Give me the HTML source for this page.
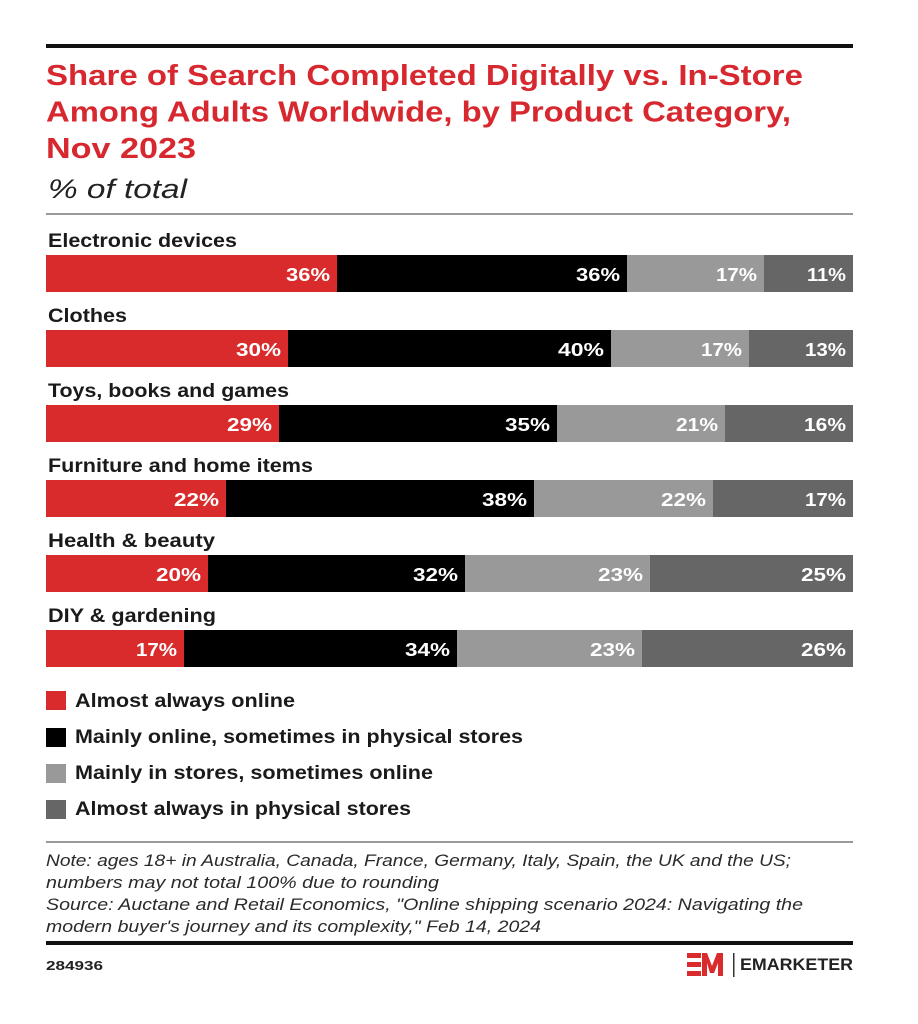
<!DOCTYPE html>
<html><head><meta charset="utf-8"><style>
html,body{margin:0;padding:0;background:#fff;}
svg{display:block;}
</style></head><body>
<svg width="918" height="1024" viewBox="0 0 918 1024" xmlns="http://www.w3.org/2000/svg" font-family="'Liberation Sans', sans-serif">
<rect width="918" height="1024" fill="#fff"/>
<rect x="46" y="44" width="807" height="4" fill="#111"/>
<g fill="#d7282f" font-weight="bold" font-size="29">
<text x="46" y="85" textLength="757" lengthAdjust="spacingAndGlyphs">Share of Search Completed Digitally vs. In-Store</text>
<text x="46" y="121.5" textLength="745" lengthAdjust="spacingAndGlyphs">Among Adults Worldwide, by Product Category,</text>
<text x="46" y="158" textLength="150" lengthAdjust="spacingAndGlyphs">Nov 2023</text>
</g>
<text x="48" y="198" font-size="27" font-style="italic" fill="#222" textLength="139" lengthAdjust="spacingAndGlyphs">% of total</text>
<rect x="46" y="213" width="807" height="2" fill="#999"/>

<g font-weight="bold" font-size="19.5" fill="#1a1a1a">
<text x="48" y="247" textLength="189" lengthAdjust="spacingAndGlyphs">Electronic devices</text>
<text x="48" y="322" textLength="79" lengthAdjust="spacingAndGlyphs">Clothes</text>
<text x="48" y="397" textLength="241" lengthAdjust="spacingAndGlyphs">Toys, books and games</text>
<text x="48" y="472" textLength="265" lengthAdjust="spacingAndGlyphs">Furniture and home items</text>
<text x="48" y="547" textLength="167" lengthAdjust="spacingAndGlyphs">Health &amp; beauty</text>
<text x="48" y="622" textLength="168" lengthAdjust="spacingAndGlyphs">DIY &amp; gardening</text>
</g>

<!-- bars -->
<g>
<rect x="46" y="255" width="291" height="37" fill="#d92b2b"/><rect x="337" y="255" width="290" height="37" fill="#000"/><rect x="627" y="255" width="137" height="37" fill="#999"/><rect x="764" y="255" width="89" height="37" fill="#666"/>
<rect x="46" y="330" width="242" height="37" fill="#d92b2b"/><rect x="288" y="330" width="323" height="37" fill="#000"/><rect x="611" y="330" width="138" height="37" fill="#999"/><rect x="749" y="330" width="104" height="37" fill="#666"/>
<rect x="46" y="405" width="233" height="37" fill="#d92b2b"/><rect x="279" y="405" width="278" height="37" fill="#000"/><rect x="557" y="405" width="168" height="37" fill="#999"/><rect x="725" y="405" width="128" height="37" fill="#666"/>
<rect x="46" y="480" width="180" height="37" fill="#d92b2b"/><rect x="226" y="480" width="308" height="37" fill="#000"/><rect x="534" y="480" width="179" height="37" fill="#999"/><rect x="713" y="480" width="140" height="37" fill="#666"/>
<rect x="46" y="555" width="162" height="37" fill="#d92b2b"/><rect x="208" y="555" width="257" height="37" fill="#000"/><rect x="465" y="555" width="185" height="37" fill="#999"/><rect x="650" y="555" width="203" height="37" fill="#666"/>
<rect x="46" y="630" width="138" height="37" fill="#d92b2b"/><rect x="184" y="630" width="273" height="37" fill="#000"/><rect x="457" y="630" width="185" height="37" fill="#999"/><rect x="642" y="630" width="211" height="37" fill="#666"/>
</g>
<g fill="#fff" font-weight="bold" font-size="18" text-anchor="end">
<text x="330" y="281" textLength="44" lengthAdjust="spacingAndGlyphs">36%</text>
<text x="620" y="281" textLength="44" lengthAdjust="spacingAndGlyphs">36%</text>
<text x="757" y="281" textLength="41" lengthAdjust="spacingAndGlyphs">17%</text>
<text x="846" y="281" textLength="39" lengthAdjust="spacingAndGlyphs">11%</text>

<text x="281" y="356" textLength="45" lengthAdjust="spacingAndGlyphs">30%</text>
<text x="604" y="356" textLength="46" lengthAdjust="spacingAndGlyphs">40%</text>
<text x="742" y="356" textLength="41" lengthAdjust="spacingAndGlyphs">17%</text>
<text x="846" y="356" textLength="41" lengthAdjust="spacingAndGlyphs">13%</text>

<text x="272" y="431" textLength="45" lengthAdjust="spacingAndGlyphs">29%</text>
<text x="550" y="431" textLength="45" lengthAdjust="spacingAndGlyphs">35%</text>
<text x="718" y="431" textLength="42" lengthAdjust="spacingAndGlyphs">21%</text>
<text x="846" y="431" textLength="42" lengthAdjust="spacingAndGlyphs">16%</text>

<text x="219" y="506" textLength="45" lengthAdjust="spacingAndGlyphs">22%</text>
<text x="527" y="506" textLength="45" lengthAdjust="spacingAndGlyphs">38%</text>
<text x="706" y="506" textLength="45" lengthAdjust="spacingAndGlyphs">22%</text>
<text x="846" y="506" textLength="41" lengthAdjust="spacingAndGlyphs">17%</text>

<text x="201" y="581" textLength="45" lengthAdjust="spacingAndGlyphs">20%</text>
<text x="458" y="581" textLength="45" lengthAdjust="spacingAndGlyphs">32%</text>
<text x="643" y="581" textLength="45" lengthAdjust="spacingAndGlyphs">23%</text>
<text x="846" y="581" textLength="45" lengthAdjust="spacingAndGlyphs">25%</text>

<text x="177" y="656" textLength="41" lengthAdjust="spacingAndGlyphs">17%</text>
<text x="450" y="656" textLength="45" lengthAdjust="spacingAndGlyphs">34%</text>
<text x="635" y="656" textLength="45" lengthAdjust="spacingAndGlyphs">23%</text>
<text x="846" y="656" textLength="45" lengthAdjust="spacingAndGlyphs">26%</text>
</g>

<!-- legend -->
<rect x="46" y="691" width="20" height="19" fill="#d92b2b"/>
<rect x="46" y="728" width="20" height="19" fill="#000"/>
<rect x="46" y="764" width="20" height="19" fill="#999"/>
<rect x="46" y="800" width="20" height="19" fill="#666"/>
<g font-weight="bold" font-size="19.5" fill="#1a1a1a">
<text x="75" y="707" textLength="220" lengthAdjust="spacingAndGlyphs">Almost always online</text>
<text x="75" y="743" textLength="448" lengthAdjust="spacingAndGlyphs">Mainly online, sometimes in physical stores</text>
<text x="75" y="779" textLength="358" lengthAdjust="spacingAndGlyphs">Mainly in stores, sometimes online</text>
<text x="75" y="815" textLength="336" lengthAdjust="spacingAndGlyphs">Almost always in physical stores</text>
</g>

<rect x="46" y="841" width="807" height="2" fill="#999"/>
<g font-style="italic" font-size="17" fill="#2a2a2a">
<text x="46" y="866" textLength="745" lengthAdjust="spacingAndGlyphs">Note: ages 18+ in Australia, Canada, France, Germany, Italy, Spain, the UK and the US;</text>
<text x="46" y="888" textLength="393" lengthAdjust="spacingAndGlyphs">numbers may not total 100% due to rounding</text>
<text x="46" y="910" textLength="757" lengthAdjust="spacingAndGlyphs">Source: Auctane and Retail Economics, "Online shipping scenario 2024: Navigating the</text>
<text x="46" y="932" textLength="495" lengthAdjust="spacingAndGlyphs">modern buyer's journey and its complexity," Feb 14, 2024</text>
</g>
<rect x="46" y="941" width="807" height="4" fill="#111"/>
<text x="46" y="970" font-weight="bold" font-size="13" fill="#222" textLength="57" lengthAdjust="spacingAndGlyphs">284936</text>

<!-- logo -->
<g fill="#d92b2b">
<rect x="687" y="953" width="14" height="5"/>
<rect x="687" y="962" width="14" height="5"/>
<rect x="687" y="971" width="14" height="5"/>
<polygon points="702,976 702,953 707,953 712,966 717,953 723,953 723,976 718,976 718,963 714,973 710,973 707,963 707,976"/>
</g>
<rect x="733" y="953" width="1.5" height="24" fill="#333"/>
<text x="740" y="970" font-weight="bold" font-size="17" fill="#222" textLength="113" lengthAdjust="spacingAndGlyphs">EMARKETER</text>
</svg>
</body></html>
